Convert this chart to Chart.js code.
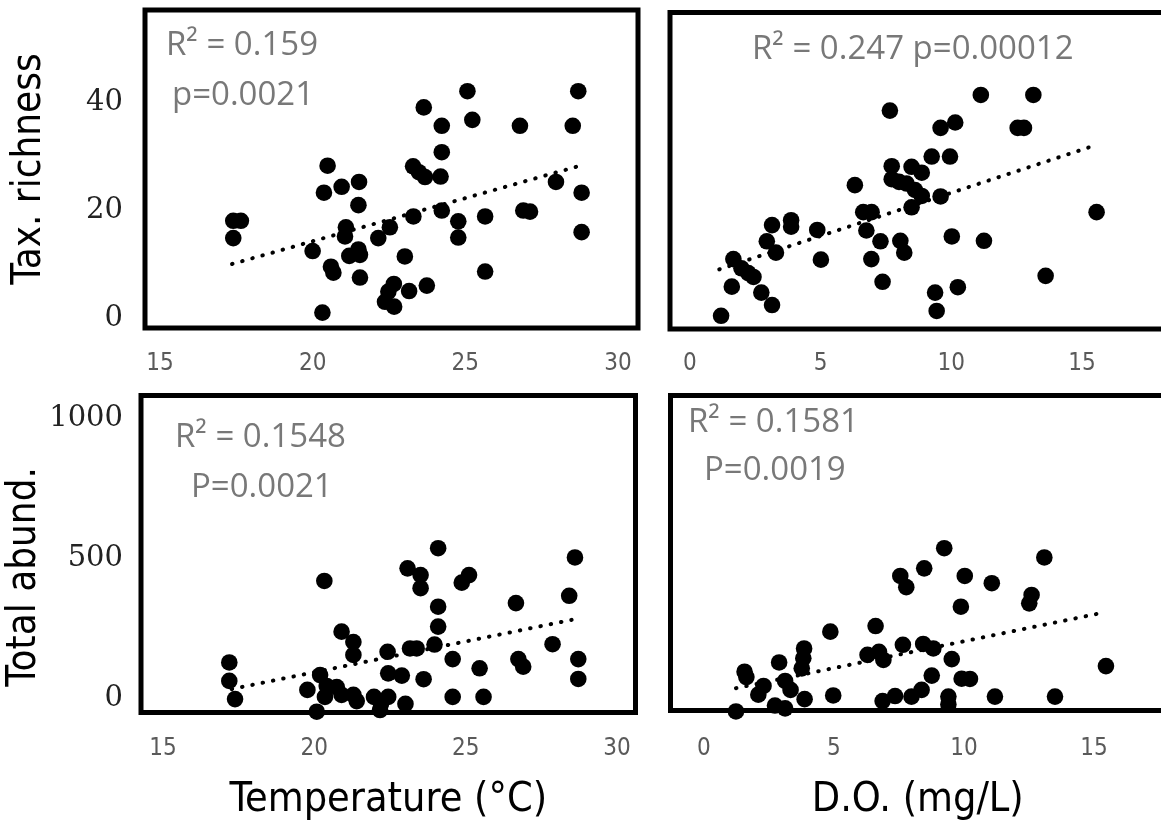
<!DOCTYPE html>
<html>
<head>
<meta charset="utf-8">
<script src="https://cdn.jsdelivr.net/npm/chart.js@4.4.1/dist/chart.umd.min.js"></script>
<style>
    html, body { margin: 0; padding: 0; background: #fff; overflow: hidden; }
    body { width: 1161px; height: 825px; position: relative; }
    canvas { position: absolute; }
</style>
</head>
<body>
<canvas id="tempRich" width="660" height="390" style="left:0;top:0"></canvas>
<canvas id="doRich" width="520" height="390" style="left:655px;top:0"></canvas>
<canvas id="tempAbund" width="660" height="440" style="left:0;top:385px"></canvas>
<canvas id="doAbund" width="520" height="440" style="left:655px;top:385px"></canvas>
<script>
// tick labels
const tempTicks = [15, 20, 25, 30];
const doTicks = [0, 5, 10, 15];
const richTicks = [0, 20, 40];
const abundTicks = [0, 500, 1000];

// taxonomic richness vs temperature
const tlTemp = [25.07, 28.70, 23.64, 24.23, 25.23, 26.79, 28.52, 24.23, 20.49, 23.29, 23.48, 23.68, 24.19, 27.97, 21.52, 20.95, 20.37, 28.81, 21.50, 24.23, 26.90, 27.12, 23.30, 25.65, 24.77, 17.40, 17.65, 17.40, 21.09, 21.06, 22.53, 22.15, 24.77, 28.81, 20.00, 21.20, 21.50, 21.55, 23.02, 20.60, 20.68, 21.55, 25.65, 22.66, 23.16, 23.74, 22.48, 22.37, 22.67, 20.32];
const tlRich = [42.0, 42.0, 39.0, 35.6, 36.7, 35.6, 35.6, 30.7, 28.2, 28.1, 27.0, 26.1, 26.2, 25.2, 25.2, 24.3, 23.2, 23.2, 20.9, 19.9, 19.9, 19.7, 18.8, 18.8, 17.9, 18.0, 18.0, 14.8, 16.8, 15.1, 16.8, 14.8, 14.9, 15.9, 12.4, 11.5, 12.7, 11.7, 11.4, 9.5, 8.4, 7.5, 8.6, 6.3, 5.0, 6.0, 4.9, 3.0, 2.1, 1.0];
const tlTrendX = [17.36, 28.82];
const tlTrendY = [10.0, 28.3];

// taxonomic richness vs dissolved oxygen
const trDO = [11.13, 13.14, 7.65, 9.59, 10.15, 12.54, 12.78, 9.25, 9.95, 7.72, 8.48, 8.87, 7.72, 8.00, 8.29, 8.61, 8.87, 9.59, 6.31, 8.48, 6.63, 6.95, 15.56, 3.87, 3.87, 3.14, 4.87, 2.94, 3.29, 6.75, 7.29, 8.05, 8.20, 10.02, 11.25, 5.01, 6.94, 1.66, 1.97, 2.23, 2.43, 1.60, 2.73, 3.14, 1.19, 7.37, 9.38, 10.25, 9.44, 13.61];
const trRich = [41.3, 41.3, 38.4, 35.2, 36.2, 35.2, 35.2, 29.9, 29.9, 28.1, 28.0, 26.9, 25.7, 25.2, 24.9, 23.7, 22.6, 22.5, 24.6, 20.5, 19.6, 19.6, 19.6, 18.1, 16.9, 17.2, 16.3, 14.2, 12.1, 16.2, 14.2, 14.3, 12.1, 15.1, 14.3, 10.8, 10.9, 10.9, 9.2, 8.3, 7.6, 5.8, 4.7, 2.4, 0.4, 6.7, 4.7, 5.7, 1.3, 7.8];
const trTrendX = [1.12, 15.46];
const trTrendY = [9.0, 31.9];

// total abundance vs temperature
const blTemp = [24.09, 28.61, 20.33, 23.08, 23.51, 23.51, 25.11, 24.87, 28.42, 26.66, 24.09, 24.09, 20.90, 21.29, 21.29, 22.42, 23.16, 23.38, 23.97, 27.87, 24.57, 26.74, 26.90, 28.72, 25.46, 28.72, 17.19, 17.19, 17.38, 22.44, 22.89, 23.61, 20.19, 19.77, 24.57, 25.59, 20.08, 20.41, 20.74, 20.35, 20.90, 21.29, 21.40, 21.97, 22.44, 22.20, 22.17, 23.01];
const blAbund = [535, 502, 418, 463, 439, 392, 439, 412, 365, 339, 326, 255, 237, 200, 154, 165, 177, 177, 191, 192, 139, 139, 112, 139, 106, 68, 127, 61, -4, 88, 80, 67, 82, 29, 4, 4, -49, 43, 39, 4, 11, 11, -11, 4, 4, -21, -43, -21];
const blTrendX = [17.27, 28.50];
const blTrendY = [32, 279];

// total abundance vs dissolved oxygen
const brDO = [9.24, 13.09, 8.47, 7.55, 7.78, 10.03, 11.07, 12.60, 12.51, 9.88, 6.60, 4.86, 3.85, 3.82, 3.76, 2.89, 1.56, 1.63, 6.29, 6.73, 6.90, 7.65, 8.43, 8.82, 9.53, 15.46, 8.76, 9.91, 10.23, 2.29, 2.09, 3.12, 3.33, 3.87, 4.97, 6.87, 7.35, 7.98, 8.37, 9.40, 9.40, 11.19, 13.50, 1.23, 2.73, 3.12];
const brAbund = [535, 502, 463, 436, 396, 436, 410, 368, 338, 326, 257, 237, 177, 142, 106, 127, 94, 75, 154, 165, 136, 190, 193, 177, 139, 114, 80, 69, 68, 43, 12, 61, 29, -4, 9, -11, 7, 5, 29, 5, -23, 5, 5, -48, -27, -37];
const brTrendX = [1.23, 15.20];
const brTrendY = [35, 302];

const narrow = '"DejaVu Sans Condensed", sans-serif';

function pairs(xs, ys) {
    return xs.map((x, i) => ({ x: x, y: ys[i] }));
}

// black frame round the plot area plus the R² / p notes
const frameAndNotes = {
    id: "frameAndNotes",
    beforeDatasetsDraw(chart) {
        const { ctx, chartArea: a } = chart;
        ctx.save();
        ctx.lineWidth = 5;
        ctx.strokeStyle = "#000";
        ctx.strokeRect(a.left, a.top, a.right - a.left, a.bottom - a.top);
        ctx.restore();
    },
    afterDatasetsDraw(chart, args, opts) {
        const { ctx, chartArea: a } = chart;
        ctx.save();
        ctx.fillStyle = "#787878";
        ctx.font = '33px "Open Sans", sans-serif';
        ctx.textBaseline = "middle";
        ctx.textAlign = "left";
        (opts.notes || []).forEach((n) => ctx.fillText(n.text, a.left + n.dx, a.top + n.dy));
        ctx.restore();
    },
};

function makePanel(id, p) {
    return new Chart(document.getElementById(id), {
        type: "scatter",
        data: {
            datasets: [
                {
                    data: pairs(p.xs, p.ys),
                    backgroundColor: "#000",
                    borderWidth: 0,
                    pointRadius: 8.3,
                    clip: false,
                },
                {
                    type: "line",
                    data: pairs(p.trendX, p.trendY),
                    borderColor: "#000",
                    borderWidth: 4,
                    borderDash: [0.5, 10],
                    borderCapStyle: "round",
                    pointRadius: 0,
                    fill: false,
                },
            ],
        },
        options: {
            responsive: false,
            animation: false,
            layout: { padding: p.padding },
            plugins: {
                legend: { display: false },
                tooltip: { enabled: false },
                frameAndNotes: { notes: p.notes },
            },
            scales: {
                x: {
                    type: "linear",
                    min: p.xMin,
                    max: p.xMax,
                    afterBuildTicks: (s) => { s.ticks = p.xTicks.map((v) => ({ value: v })); },
                    afterFit: (s) => { s.height = p.xHeight; s.paddingLeft = 0; s.paddingRight = 0; },
                    grid: { display: false, drawTicks: false },
                    border: { display: false },
                    ticks: {
                        padding: p.xPad,
                        color: "#5a5a5a",
                        autoSkip: false,
                        maxRotation: 0,
                        font: { family: narrow, size: 24 },
                        callback: (v) => String(v),
                    },
                    title: {
                        display: !!p.xTitle,
                        text: p.xTitle || "",
                        color: "#000",
                        font: { family: narrow, size: 41, lineHeight: 1 },
                        padding: { top: 0, bottom: 4 },
                    },
                },
                y: {
                    type: "linear",
                    display: !!p.yTitle,
                    min: p.yMin,
                    max: p.yMax,
                    afterBuildTicks: (s) => { s.ticks = p.yTicks.map((v) => ({ value: v })); },
                    afterFit: (s) => { s.width = p.yWidth || 0; s.paddingTop = 0; s.paddingBottom = 0; },
                    grid: { display: false, drawTicks: false },
                    border: { display: false },
                    ticks: {
                        padding: p.yPad || 0,
                        color: "#222",
                        autoSkip: false,
                        font: { family: "DejaVu Serif", size: 29 },
                        callback: (v) => String(v),
                    },
                    title: {
                        display: !!p.yTitle,
                        text: p.yTitle || "",
                        color: "#000",
                        font: { family: narrow, size: 40 },
                        padding: { top: p.yTitlePad || 0, bottom: 0 },
                    },
                },
            },
        },
        plugins: [frameAndNotes],
    });
}

makePanel("tempRich", {
    xs: tlTemp, ys: tlRich, trendX: tlTrendX, trendY: tlTrendY,
    xTicks: tempTicks, yTicks: richTicks,
    xMin: 14.509, xMax: 30.657, yMin: -1.85, yMax: 57.04,
    padding: { left: 0, top: 10, right: 22, bottom: 0 },
    xHeight: 62, xPad: 21, yWidth: 145, yPad: 22,
    yTitle: "Tax. richness", yTitlePad: 6,
    notes: [
        { text: "R² = 0.159", dx: 21, dy: 36 },
        { text: "p=0.0021", dx: 27, dy: 86 },
    ],
});

makePanel("doRich", {
    xs: trDO, ys: trRich, trendX: trTrendX, trendY: trTrendY,
    xTicks: doTicks, yTicks: richTicks,
    xMin: -0.765, xMax: 18.178, yMin: -2.04, yMax: 56.57,
    padding: { left: 15, top: 12.5, right: 10, bottom: 0 },
    xHeight: 61, xPad: 20,
    notes: [{ text: "R² = 0.247 p=0.00012", dx: 82, dy: 37.5 }],
});

makePanel("tempAbund", {
    xs: blTemp, ys: blAbund, trendX: blTrendX, trendY: blTrendY,
    xTicks: tempTicks, yTicks: abundTicks,
    xMin: 14.273, xMax: 30.61, yMin: -51.8, yMax: 1080.4,
    padding: { left: 0, top: 10.5, right: 24.5, bottom: 0 },
    xHeight: 112.5, xPad: 22, yWidth: 141, yPad: 18,
    xTitle: "Temperature (°C)",
    yTitle: "Total abund.\u00a0\u00a0\u00a0\u00a0", yTitlePad: 1,
    notes: [
        { text: "R² = 0.1548", dx: 34, dy: 42.5 },
        { text: "P=0.0021", dx: 50, dy: 92.5 },
    ],
});

makePanel("doAbund", {
    xs: brDO, ys: brAbund, trendX: brTrendX, trendY: brTrendY,
    xTicks: doTicks, yTicks: abundTicks,
    xMin: -1.288, xMax: 17.731, yMin: -44.6, yMax: 1080.4,
    padding: { left: 15.5, top: 10.5, right: 10, bottom: 0 },
    xHeight: 114.5, xPad: 24,
    xTitle: "D.O. (mg/L)",
    notes: [
        { text: "R² = 0.1581", dx: 17.5, dy: 27.5 },
        { text: "P=0.0019", dx: 33.5, dy: 75.5 },
    ],
});
</script>
</body>
</html>
